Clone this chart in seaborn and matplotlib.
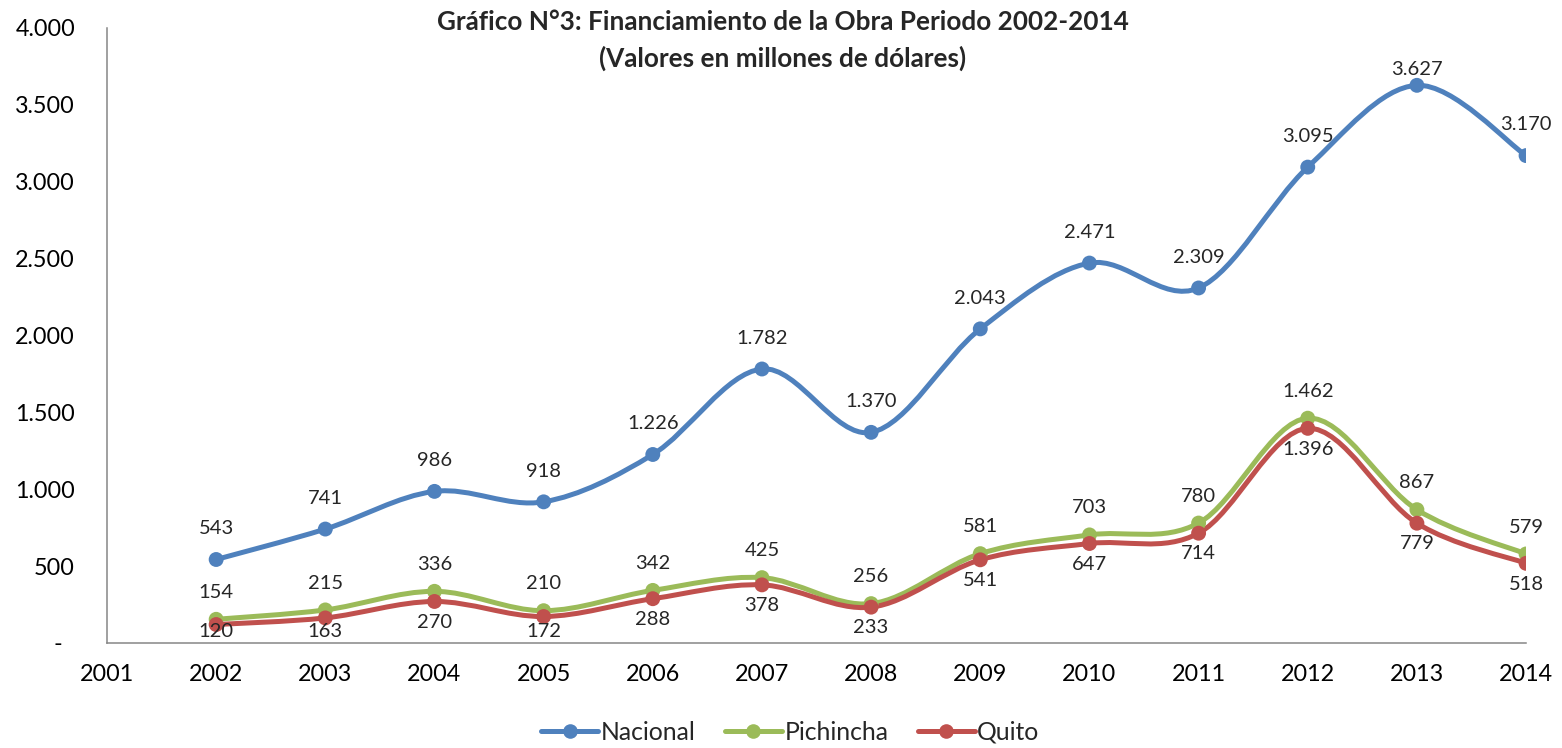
import numpy as np
import pandas as pd
import matplotlib
matplotlib.use("Agg")
import matplotlib.pyplot as plt
from matplotlib.path import Path
from matplotlib.patches import PathPatch
from matplotlib.lines import Line2D
import seaborn as sns

# data
years = [2002, 2003, 2004, 2005, 2006, 2007, 2008, 2009, 2010, 2011, 2012, 2013, 2014]
nacional = [543, 741, 986, 918, 1226, 1782, 1370, 2043, 2471, 2309, 3095, 3627, 3170]
pichincha = [154, 215, 336, 210, 342, 425, 256, 581, 703, 780, 1462, 867, 579]
quito = [120, 163, 270, 172, 288, 378, 233, 541, 647, 714, 1396, 779, 518]
series_names = ["Nacional", "Pichincha", "Quito"]
colors = {"Nacional": "#4F81BD", "Pichincha": "#9BBB59", "Quito": "#C0504D"}

df = pd.DataFrame({
    "year": years * 3,
    "value": nacional + pichincha + quito,
    "serie": [n for n in series_names for _ in years],
})

sns.set_style("white")
plt.rcParams["font.family"] = ["Lato", "DejaVu Sans"]


def fmt(v):
    return f"{v:,.0f}".replace(",", ".")


def smooth_path(xs, ys):
    """Excel-like smoothed line: Catmull-Rom converted to cubic Bezier."""
    pts = np.column_stack([xs, ys]).astype(float)
    verts = [pts[0]]
    codes = [Path.MOVETO]
    n = len(pts)
    for i in range(n - 1):
        p0 = pts[i - 1] if i > 0 else pts[i]
        p1 = pts[i]
        p2 = pts[i + 1]
        p3 = pts[i + 2] if i + 2 < n else pts[i + 1]
        c1 = p1 + (p2 - p0) / 6.0
        c2 = p2 - (p3 - p1) / 6.0
        verts += [c1, c2, p2]
        codes += [Path.CURVE4] * 3
    return Path(verts, codes)


fig = plt.figure(figsize=(15.62, 7.48), dpi=100)
ax = fig.add_axes([0.0685, 0.1404, 0.9085, 0.8222])

for name in series_names:
    sub = df[df["serie"] == name]
    ax.add_patch(PathPatch(smooth_path(sub["year"], sub["value"]), fill=False,
                           edgecolor=colors[name], lw=3.6, capstyle="round",
                           joinstyle="round", zorder=2))
    sns.scatterplot(data=sub, x="year", y="value", color=colors[name], s=115,
                    edgecolor="none", ax=ax, legend=False, zorder=3)

# data labels
for x, v in zip(years, nacional):
    ax.text(x, min(v + 200, 3730), fmt(v), ha="center", va="center", fontsize=14.5)
for x, v in zip(years, pichincha):
    ax.text(x, v + 175, fmt(v), ha="center", va="center", fontsize=14.5)
for x, v in zip(years, quito):
    ax.text(x, max(v - 135, 75), fmt(v), ha="center", va="center", fontsize=14.5)

ax.set_xlim(2001, 2014)
ax.set_ylim(0, 4000)
ax.set_xticks(range(2001, 2015))
ax.set_yticks(range(0, 4001, 500))
ax.set_yticklabels(["-  "] + [fmt(t) for t in range(500, 4001, 500)])
ax.set_xlabel("")
ax.set_ylabel("")
ax.tick_params(axis="both", labelsize=16.8, colors="#868686", labelcolor="black",
               length=6, width=1.1, direction="out")
ax.tick_params(axis="y", pad=17)
ax.tick_params(axis="x", pad=9)
for s in ["top", "right"]:
    ax.spines[s].set_visible(False)
for s in ["left", "bottom"]:
    ax.spines[s].set_color("#868686")
    ax.spines[s].set_linewidth(1.1)
ax.grid(False)

fig.text(0.501, 0.986, "Gráfico N°3: Financiamiento de la Obra Periodo 2002-2014\n"
         "(Valores en millones de dólares)", ha="center", va="top",
         fontsize=18.8, fontweight="bold", linespacing=1.55)

handles = [Line2D([], [], color=colors[n], lw=3.6, marker="o", markersize=10.5,
                  markeredgecolor="none") for n in series_names]
fig.legend(handles, series_names, loc="center", bbox_to_anchor=(0.506, 0.021),
           ncol=3, frameon=False, fontsize=17.8, handlelength=2.3,
           handletextpad=0.1, columnspacing=1.2)

fig.savefig("out.png", dpi=100)
